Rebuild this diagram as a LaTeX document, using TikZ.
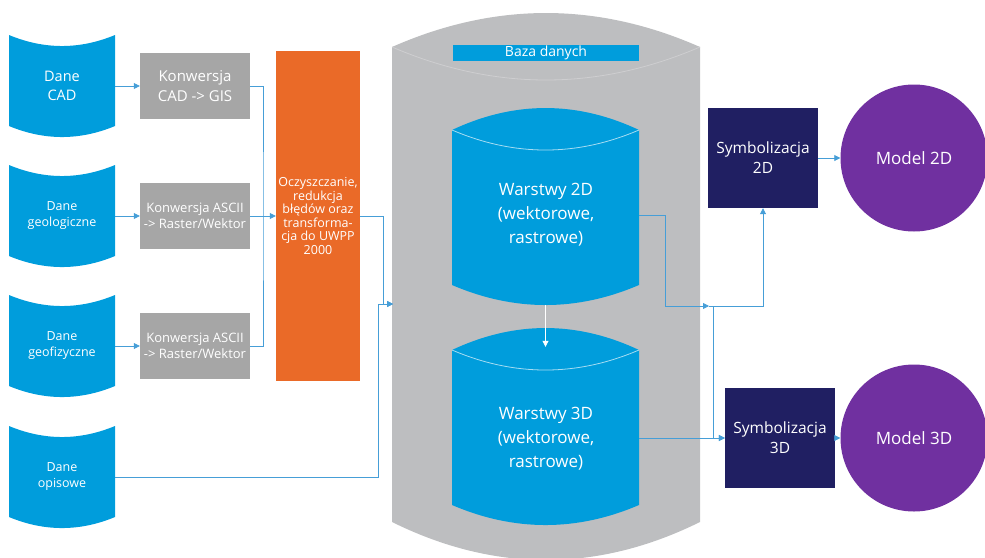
\documentclass[tikz,border=0pt]{standalone}
\usepackage{fontspec}
\setmainfont{Open Sans}
\usetikzlibrary{arrows.meta,calc}
\definecolor{daneblue}{RGB}{0,157,220}
\definecolor{konwgray}{RGB}{166,166,166}
\definecolor{oczyorange}{RGB}{234,106,40}
\definecolor{dbgray}{RGB}{189,190,192}
\definecolor{symnavy}{RGB}{32,31,98}
\definecolor{modelpurple}{RGB}{112,48,160}
\definecolor{linkblue}{RGB}{70,158,215}
\begin{document}
\begin{tikzpicture}[x=1pt,y=-1pt,
  every node/.style={inner sep=0pt, align=center, text=white},
  dane/.style={minimum width=106, minimum height=102,
    font=\fontsize{12.5}{16}\selectfont,
    path picture={
      \fill[daneblue] (path picture bounding box.north west)
        .. controls ($(path picture bounding box.north west)!1/3!(path picture bounding box.north east)+(0,-14.7pt)$)
        and ($(path picture bounding box.north west)!2/3!(path picture bounding box.north east)+(0,-14.7pt)$)
        .. (path picture bounding box.north east)
        -- ($(path picture bounding box.south east)+(0,11pt)$)
        .. controls ($(path picture bounding box.south west)!2/3!(path picture bounding box.south east)+(0,-3.7pt)$)
        and ($(path picture bounding box.south west)!1/3!(path picture bounding box.south east)+(0,-3.7pt)$)
        .. ($(path picture bounding box.south west)+(0,11pt)$) -- cycle;}},
  konw/.style={fill=konwgray, minimum width=110, minimum height=66, font=\fontsize{13}{16.5}\selectfont},
  oczy/.style={fill=oczyorange, minimum width=84, minimum height=330, font=\fontsize{12.5}{13.6}\selectfont},
  dbcyl/.style={minimum width=308, minimum height=547,
    path picture={
      \begin{scope}[shift={(path picture bounding box.center)}]
      \fill[dbgray] (-154pt,239.5pt) .. controls (-51.3pt,284.8pt) and (51.3pt,284.8pt) .. (154pt,239.5pt)
        -- (154pt,-235.5pt) .. controls (51.3pt,-286.2pt) and (-51.3pt,-286.2pt) .. (-154pt,-235.5pt) -- cycle;
      \draw[dbgray!75!white, line width=0.8pt] (-154pt,239.5pt) .. controls (-51.3pt,195.5pt) and (51.3pt,195.5pt) .. (154pt,239.5pt);
      \end{scope}}},
  warstwa/.style={minimum width=187, minimum height=197,
    path picture={
      \begin{scope}[shift={(path picture bounding box.center)}]
      \fill[daneblue] (-93.5pt,76.5pt) .. controls (-31.2pt,105.8pt) and (31.2pt,105.8pt) .. (93.5pt,76.5pt)
        -- (93.5pt,-78.5pt) .. controls (31.2pt,-105.2pt) and (-31.2pt,-105.2pt) .. (-93.5pt,-78.5pt) -- cycle;
      \draw[white!65!daneblue, line width=0.8pt] (-93.5pt,76.5pt) .. controls (-31.2pt,49.8pt) and (31.2pt,49.8pt) .. (93.5pt,76.5pt);
      \end{scope}}},
  wtext/.style={font=\fontsize{17}{24}\selectfont},
  bazalabel/.style={fill=daneblue, minimum width=186, minimum height=16, font=\fontsize{14}{16}\selectfont},
  sym/.style={fill=symnavy, minimum width=110, minimum height=100, font=\fontsize{15.5}{20}\selectfont},
  model/.style={circle, fill=modelpurple, minimum size=147, font=\fontsize{17}{20}\selectfont},
  link/.style={draw=linkblue, line width=0.8pt, -{Triangle[length=6pt,width=6pt]}},
  line/.style={draw=linkblue, line width=0.8pt}]
\useasboundingbox (0,0) rectangle (985,557);

\node[dbcyl] (db) at (546,286.5) {};
\node[bazalabel] (baza) at (546,53) {Baza danych};
\node[warstwa] (w2d) at (545.5,206.5) {};
\node[warstwa] (w3d) at (545.5,426.5) {};
\node[wtext] (w2dtxt) at (546,215) {Warstwy 2D\\(wektorowe,\\rastrowe)};
\node[wtext] (w3dtxt) at (546,439) {Warstwy 3D\\(wektorowe,\\rastrowe)};

\node[dane, font=\fontsize{14.5}{19}\selectfont] (cad) at (62,86) {Dane\\CAD};
\node[dane] (geol) at (62,216) {Dane\\geologiczne};
\node[dane] (geof) at (62,346) {Dane\\geofizyczne};
\node[dane] (opis) at (62,477) {Dane\\opisowe};

\node[konw, font=\fontsize{15}{19.5}\selectfont] (k1) at (195,86) {Konwersja\\CAD -> GIS};
\node[konw] (k2) at (195,216) {Konwersja ASCII\\-> Raster/Wektor};
\node[konw] (k3) at (195,346) {Konwersja ASCII\\-> Raster/Wektor};
\node[oczy] (oczy) at (318,216) {Oczyszczanie,\\redukcja\\błędów oraz\\transforma-\\cja do UWPP\\2000};

\node[sym] (s2) at (763,158) {Symbolizacja\\2D};
\node[sym] (s3) at (780,438) {Symbolizacja\\3D};
\node[model] (m2) at (914,158) {Model 2D};
\node[model] (m3) at (914,438) {Model 3D};

\coordinate (bus) at (263,216);
\coordinate (m1) at (383,304);
\coordinate (m0) at (378,304);
\coordinate (dbin) at (393,304);
\coordinate (j2) at (665,306);
\coordinate (jn) at (709,306);
\coordinate (jd) at (713,306);

\draw[link] (cad) -- (k1);
\draw[link] (geol) -- (k2);
\draw[link] (geof) -- (k3);
\draw[line] (k1) -| (bus) |- (k3);
\draw[link] (k2) -- (oczy);
\draw[link] (oczy) -| (m1) -- (dbin);
\draw[link] (opis) -| (m0) -- (dbin);
\draw[white, line width=0.8pt, -{Triangle[length=6pt,width=6pt]}] (w2d.south) -- ($(w3d.north)+(0,19)$);
\draw[link] (w2d.east |- w2dtxt) -| (j2) -- (jn);
\draw[link] (jn) -| (s2.south);
\draw[link] (jd) |- (s3.west);
\draw[link] (w3d.east |- s3) -- (s3.west);
\draw[link] (s2) -- (m2);
\draw[link] (s3) -- (m3);
\end{tikzpicture}
\end{document}
